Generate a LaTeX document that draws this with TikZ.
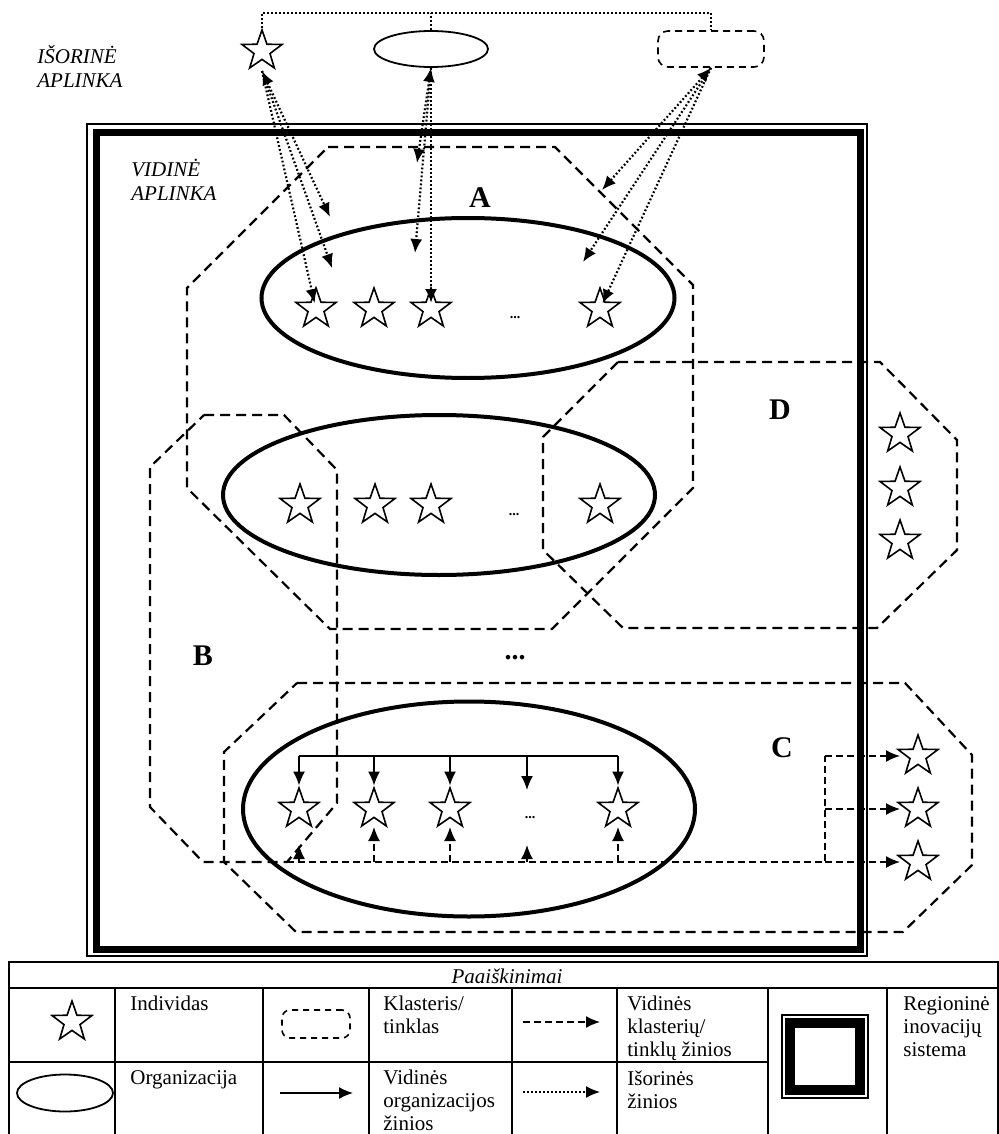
\documentclass[tikz,border=0pt]{standalone}
\usepackage{fontspec}
\setmainfont{Liberation Serif}
\usetikzlibrary{positioning}
\usetikzlibrary{shapes.geometric}
\usetikzlibrary{arrows.meta}

\begin{document}
\begin{tikzpicture}[x=0.5pt, y=-0.5pt,
    indiv/.style={star, star points=5, star point ratio=2.5, draw, line width=0.8pt, minimum size=21pt, inner sep=0pt},
    org/.style={ellipse, draw, line width=2pt, inner sep=0pt},
    netline/.style={line width=1.1pt, dash pattern=on 5pt off 3pt},
    extflow/.style={line width=1.1pt, dash pattern=on 0.9pt off 1.1pt},
    netflow/.style={line width=0.8pt, dash pattern=on 3.5pt off 2pt},
    orgflow/.style={line width=0.8pt},
    headtip/.style={-{Latex[length=7pt,width=6pt]}},
    bothtip/.style={{Latex[length=7pt,width=6pt]}-{Latex[length=7pt,width=6pt]}},
    txt/.style={font=\fontsize{10.5}{11.5}\selectfont, align=left, inner sep=0pt},
    clusterlbl/.style={font=\fontsize{15}{15}\selectfont\bfseries},
    ellip/.style={font=\fontsize{7}{7}\selectfont\bfseries, inner sep=0pt}]

    \useasboundingbox (0,0) rectangle (999,1134);

    % isorine aplinka
    \node[indiv] (extInd) at (262,51) {};
    \node[ellipse, draw, line width=0.9pt, minimum width=57pt, minimum height=18pt] (extOrg) at (431,49) {};
    \node[draw, rounded corners=5pt, line width=0.8pt, dash pattern=on 3.5pt off 2.5pt, minimum width=53pt, minimum height=18pt] (extNet) at (711,49) {};
    \coordinate (topbus) at (431,13);
    \draw[line width=0.8pt, dash pattern=on 0.8pt off 1.2pt] (extInd.north) |- (topbus) -| (extNet.north);
    \draw[line width=0.8pt, dash pattern=on 0.8pt off 1.2pt] (extOrg.north) -- (topbus);
    \node[txt, font=\fontsize{10.5}{12}\selectfont\itshape, anchor=west] (outLbl) at (37,66) {IŠORINĖ\\APLINKA};

    % regionine sistema
    \draw[line width=0.8pt] (87,124) rectangle (867,956);
    \draw[line width=3.5pt] (96,133) rectangle (860,949);
    \node[txt, font=\fontsize{10.5}{12}\selectfont\itshape, anchor=west] (inLbl) at (131,180) {VIDINĖ\\APLINKA};

    % klasteriai
    \draw[netline] (328,147) -- (555,147) -- (693,285) -- (693,488) -- (552,629) -- (330,629) -- (187,488) -- (187,288) -- cycle;
    \draw[netline] (204,415) -- (284,415) -- (337,470) -- (337,803) -- (287,862) -- (203,862) -- (150,807) -- (150,467) -- cycle;
    \draw[netline] (618,362) -- (880,362) -- (957,440) -- (957,550) -- (877,628) -- (623,628) -- (543,550) -- (543,437) -- cycle;
    \draw[netline] (297,683) -- (905,683) -- (972,755) -- (972,865) -- (903,932) -- (296,932) -- (224,862) -- (224,752) -- cycle;
    \node[clusterlbl] (lblA) at (480,198) {A};
    \node[clusterlbl] (lblB) at (203,656) {B};
    \node[clusterlbl] (lblC) at (782,748) {C};
    \node[clusterlbl] (lblD) at (780,410) {D};
    \node[font=\fontsize{14}{14}\selectfont\bfseries] (midDots) at (515,658) {...};

    % organizacijos
    \node[org, minimum width=206.5pt, minimum height=80pt] (orgA) at (468,298) {};
    \node[org, minimum width=216pt, minimum height=80pt] (orgB) at (439,495) {};
    \node[org, minimum width=226pt, minimum height=107.5pt] (orgC) at (469,809) {};

    % individai
    \foreach \x/\n in {316/1, 374/2, 431/3, 600/4}
        \node[indiv] (a\n) at (\x,309) {};
    \foreach \x/\n in {300/1, 375/2, 431/3, 600/4}
        \node[indiv] (b\n) at (\x,505) {};
    \foreach \x/\n in {299/1, 374/2, 450/3, 618/4}
        \node[indiv] (c\n) at (\x,809) {};
    \foreach \y/\n in {434/1, 488/2, 541/3}
        \node[indiv] (d\n) at (900,\y) {};
    \foreach \y/\n in {756/1, 809/2, 862/3}
        \node[indiv] (e\n) at (918,\y) {};
    \node[ellip] (aDots) at (515,318) {...};
    \node[ellip] (bDots) at (514,515) {...};
    \node[ellip] (cDots) at (530,818) {...};

    % isorines zinios
    \coordinate (indTgt1) at (330,217);
    \coordinate (indTgt2) at (332,268);
    \coordinate (orgTgt1) at (417,163);
    \coordinate (orgTgt2) at (415,253);
    \coordinate (netTgt1) at (602,190);
    \coordinate (netTgt2) at (583,262);
    \draw[extflow, bothtip] ([yshift=-10pt]extInd.center) -- (indTgt1);
    \draw[extflow, headtip] ([yshift=-10pt]extInd.center) -- (indTgt2);
    \draw[extflow, headtip, shorten >=3pt] ([yshift=-10pt]extInd.center) -- (a1.center);
    \draw[extflow, bothtip] (extOrg.south) -- (orgTgt1);
    \draw[extflow, headtip] (extOrg.south) -- (orgTgt2);
    \draw[extflow, headtip, shorten >=3pt] (extOrg.south) -- (a3.center);
    \draw[extflow, bothtip] (extNet.south) -- (netTgt1);
    \draw[extflow, headtip] (extNet.south) -- (netTgt2);
    \draw[extflow, headtip, shorten >=3pt] (extNet.south) -- (a4.center);

    % vidines organizacijos zinios
    \coordinate (busL) at (299,756);
    \coordinate (busR) at (618,756);
    \coordinate (busDots) at (527,756);
    \coordinate (dotsTop) at (527,790);
    \draw[orgflow] (busL) -- (busR);
    \draw[orgflow, headtip] (busL) -- (c1.north);
    \draw[orgflow, headtip] (c2 |- busL) -- (c2.north);
    \draw[orgflow, headtip] (c3 |- busL) -- (c3.north);
    \draw[orgflow, headtip] (busDots) -- (dotsTop);
    \draw[orgflow, headtip] (busR) -- (c4.north);

    % vidines klasteriu zinios
    \coordinate (flowL) at (287,862);
    \coordinate (flowR) at (825,862);
    \coordinate (flowTop) at (825,756);
    \coordinate (flowMid) at (825,809);
    \coordinate (c1Tip) at (299,845);
    \coordinate (dotsBot) at (527,845);
    \draw[netflow] (flowL) -- (flowR) -- (flowTop);
    \draw[netflow, headtip] (c1 |- flowL) -- (c1Tip);
    \draw[netflow, headtip] (c2 |- flowL) -- ([yshift=-9pt]c2.center);
    \draw[netflow, headtip] (c3 |- flowL) -- ([yshift=-9pt]c3.center);
    \draw[netflow, headtip] (dotsBot |- flowL) -- (dotsBot);
    \draw[netflow, headtip] (c4 |- flowL) -- ([yshift=-9pt]c4.center);
    \draw[netflow, headtip] (flowTop) -- ([xshift=-9pt]e1.center);
    \draw[netflow, headtip] (flowMid) -- ([xshift=-9pt]e2.center);
    \draw[netflow, headtip] (flowR) -- ([xshift=-9pt]e3.center);

    % paaiskinimai
    \draw[line width=0.9pt] (9,1134) -- (9,962) -- (998,962) -- (998,1134);
    \draw[line width=0.9pt] (9,988) -- (998,988);
    \draw[line width=0.9pt] (9,1062) -- (768,1062);
    \foreach \x in {115, 263, 369, 512, 617, 768, 887}
        \draw[line width=0.9pt] (\x,988) -- (\x,1134);
    \node[txt, font=\fontsize{10.5}{11.5}\selectfont\itshape] (legTitle) at (507,976) {Paaiškinimai};

    \node[indiv] (legInd) at (72,1022) {};
    \node[txt, anchor=north west] (legIndTxt) at (130,996) {Individas};
    \node[draw, rounded corners=4pt, line width=0.8pt, dash pattern=on 3pt off 2.5pt, minimum width=34pt, minimum height=14pt] (legNet) at (316,1024) {};
    \node[txt, anchor=north west] (legNetTxt) at (383,996) {Klasteris/\\tinklas};
    \coordinate (legNetA) at (523,1022);
    \coordinate (legNetB) at (600,1022);
    \draw[netflow, headtip] (legNetA) -- (legNetB);
    \node[txt, anchor=north west] (legNetFlow) at (627,996) {Vidinės\\klasterių/\\tinklų žinios};
    \draw[line width=0.6pt] (782,1015) rectangle (868,1098);
    \draw[line width=5pt] (790,1023) rectangle (860,1090);
    \node[txt, anchor=north west] (legRis) at (903,996) {Regioninė\\inovacijų\\sistema};

    \node[ellipse, draw, line width=0.9pt, minimum width=48pt, minimum height=18.5pt] (legOrg) at (65,1093) {};
    \node[txt, anchor=north west] (legOrgTxt) at (130,1070) {Organizacija};
    \coordinate (legOrgA) at (280,1093);
    \coordinate (legOrgB) at (353,1093);
    \draw[orgflow, headtip] (legOrgA) -- (legOrgB);
    \node[txt, anchor=north west] (legOrgFlow) at (383,1070) {Vidinės\\organizacijos\\žinios};
    \coordinate (legExtA) at (523,1092);
    \coordinate (legExtB) at (600,1092);
    \draw[extflow, line width=0.8pt, headtip] (legExtA) -- (legExtB);
    \node[txt, anchor=north west] (legExtFlow) at (627,1070) {Išorinės\\žinios};
\end{tikzpicture}
\end{document}
